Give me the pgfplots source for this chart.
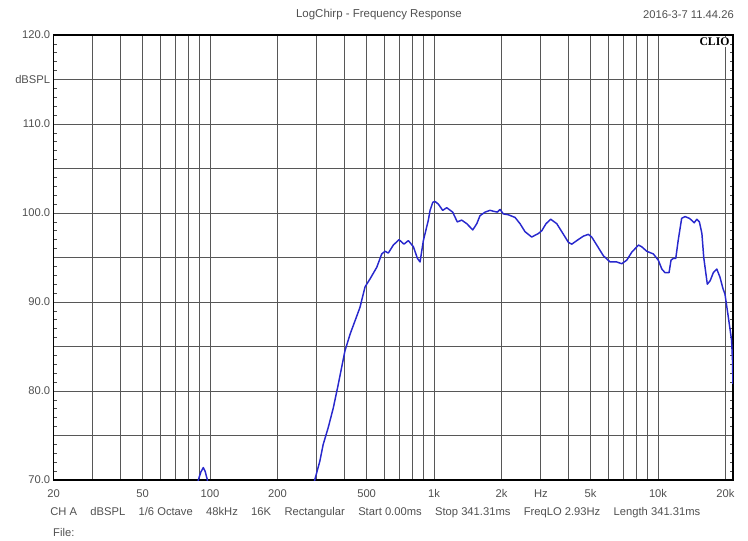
\documentclass[border=0pt]{standalone}
\usepackage{pgfplots}
\pgfplotsset{compat=1.18}
\usepackage{fontspec}
\setmainfont{Liberation Sans}
\newfontfamily\cliofont{Liberation Serif}
\definecolor{txtgray}{RGB}{80,80,80}
\definecolor{curveblue}{RGB}{40,40,205}
\begin{document}
\begin{tikzpicture}
\path[use as bounding box] (-40.125pt,-45pt) rectangle (520.875pt,360pt);
\begin{axis}[
  at={(0,0)}, anchor=south west,
  scale only axis,
  width=509.6pt, height=333.75pt,
  xmode=log,
  xmin=20, xmax=21610,
  ymin=70, ymax=120,
  xtick={20,30,40,50,60,70,80,90,100,200,300,400,500,600,700,800,900,1000,2000,3000,4000,5000,6000,7000,8000,9000,10000,20000},
  xticklabels={20,,,50,,,,,100,200,,,500,,,,,1k,2k,Hz,,5k,,,,,10k,20k},
  ytick={70,75,80,85,90,95,100,105,110,115,120},
  yticklabels={70.0,,80.0,,90.0,,100.0,,110.0,dBSPL,120.0},
  minor y tick num=4,
  grid=major,
  major grid style={black!66, line width=0.7pt},
  axis line style={black, line width=1.1pt},
  tick align=inside,
  tick pos=both,
  major tick length=0pt,
  minor tick length=2.4pt,
  minor tick style={black!70, line width=0.5pt},
  tick label style={font=\fontsize{8.4}{10}\selectfont, text=txtgray},
  xticklabel style={yshift=-3.5pt},
  yticklabel style={xshift=1pt},
]
\addplot[curveblue, line width=1.1pt, line join=round] coordinates {
(60,60) (85,65) (88.6,70) (91,70.9) (93.3,71.4) (95,71) (97.3,70) (100,66) (110,60) (250,60) (282,67.8)
(294,70.1) (309,72.1) (320,74.0) (337,75.9) (355,78.1) (374,80.8) (400,84.5) (422,86.4) (444,87.9)
(467,89.4) (492,91.7) (518,92.6) (555,93.9) (584,95.4) (604,95.7) (625,95.5) (658,96.4) (698,97.0)
(734,96.5) (768,96.9) (809,96.2) (843,94.9) (866,94.5) (896,96.9) (912,97.7) (943,99.2) (960,100.3)
(987,101.2) (1010,101.3) (1045,101.0) (1093,100.3) (1139,100.6) (1211,100.1) (1270,99.0) (1329,99.2)
(1400,98.8) (1489,98.1) (1552,98.8) (1604,99.7) (1690,100.1) (1778,100.3) (1840,100.2) (1918,100.1)
(1972,100.4) (2038,99.9) (2147,99.8) (2300,99.5) (2420,98.8) (2548,97.9) (2729,97.3) (2924,97.7)
(3026,98.0) (3162,98.8) (3318,99.3) (3531,98.8) (3718,97.9) (3981,96.7) (4121,96.5) (4339,96.9)
(4642,97.4) (4885,97.6) (5058,97.3) (5326,96.4) (5700,95.2) (6106,94.5) (6540,94.5) (6887,94.3)
(7250,94.7) (7638,95.6) (8181,96.4) (8460,96.2) (8907,95.7) (9530,95.4) (10030,94.7) (10400,93.7)
(10740,93.3) (11200,93.3) (11430,94.7) (11700,94.9) (12000,94.9) (12300,96.9) (12750,99.4) (13200,99.6)
(13800,99.4) (14100,99.2) (14500,98.9) (14900,99.3) (15300,99.0) (15700,97.7) (16000,95.0) (16600,92.0)
(17100,92.4) (17660,93.3) (18300,93.7) (18900,92.8) (19500,91.5) (19900,90.9) (20600,88.3) (21300,85.7)
(21500,83.5) (21600,80.8)
};
\end{axis}
\node[anchor=center, text=txtgray, font=\fontsize{8.6}{10}\selectfont, inner sep=0pt] at (244.1pt,348.75pt) {LogChirp - Frequency Response};
\node[anchor=east, text=txtgray, font=\fontsize{8.4}{10}\selectfont, inner sep=0pt] at (510.4pt,348.75pt) {2016-3-7 11.44.26};
\node[anchor=east, fill=white, inner sep=0.6pt, font=\cliofont\bfseries\fontsize{8.8}{10}\selectfont] at (507.8pt,328.5pt) {CLIO};
\node[anchor=west, text=txtgray, font=\fontsize{8.4}{10}\selectfont, inner sep=0pt] at (-2.6pt,-24.75pt)
  {\makebox[487.5pt][l]{CH~A\hfill dBSPL\hfill 1/6~Octave\hfill 48kHz\hfill 16K\hfill Rectangular\hfill Start~0.00ms\hfill Stop~341.31ms\hfill FreqLO~2.93Hz\hfill Length~341.31ms}};
\node[anchor=west, text=txtgray, font=\fontsize{8.4}{10}\selectfont, inner sep=0pt] at (-0.4pt,-39pt) {File:};
\end{tikzpicture}
\end{document}
